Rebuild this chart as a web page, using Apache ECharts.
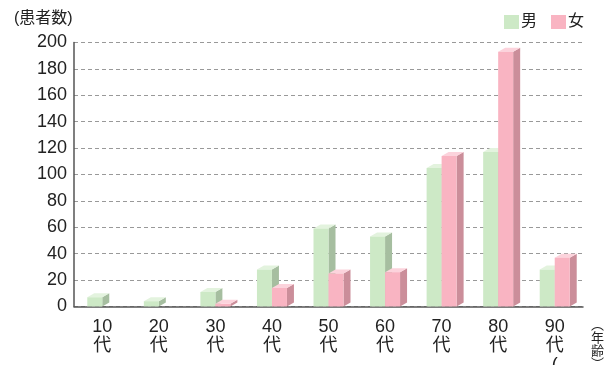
<!DOCTYPE html>
<html><head><meta charset="utf-8">
<script src="https://cdn.jsdelivr.net/npm/echarts@6/dist/echarts.min.js"></script>
<style>html,body{margin:0;padding:0;background:#fff;overflow:hidden}#c{width:608px;height:365px}</style>
</head><body><div id="c"></div>
<script>
const categories = ['10\n代','20\n代','30\n代','40\n代','50\n代','60\n代','70\n代','80\n代','90\n代\n('];
const male = [7, 4, 11, 28, 59, 53, 105, 117, 28];
const female = [0, 0, 2, 14, 25, 26, 114, 193, 37];
const seriesNames = ['男','女'];
const yTicks = {min: 0, max: 200, interval: 20};

const FONT = '"Liberation Sans","Noto Sans CJK JP",sans-serif';
const W = 15, DX = 7, DY = 4;
const palettes = [
  {front:'#cde9c6', top:'#e3f3de', side:'#a6bea0'},
  {front:'#f9b4c2', top:'#fcd3dc', side:'#cb8e9a'}
];
function makeRender(k){
  const p = palettes[k];
  return function(params, api){
    const v = api.value(1);
    if (!v) return;
    const top = api.coord([api.value(0), v]);
    const base = api.coord([api.value(0), 0]);
    const x0 = k === 0 ? top[0] - W : top[0];
    const x1 = x0 + W;
    const yt = top[1], yb = base[1];
    return {type:'group', children:[
      {type:'polygon', shape:{points:[[x1,yt],[x1+DX,yt-DY],[x1+DX,yb-DY],[x1,yb]]}, style:{fill:p.side}},
      {type:'polygon', shape:{points:[[x0,yt],[x0+DX,yt-DY],[x1+DX,yt-DY],[x1,yt]]}, style:{fill:p.top}},
      {type:'rect', shape:{x:x0, y:yt, width:W, height:yb-yt}, style:{fill:p.front}}
    ]};
  };
}
const el = document.getElementById('c');
const chart = echarts.init(el, null, {renderer:'canvas', width:608, height:365});
chart.setOption({
  animation:false,
  textStyle:{fontFamily:FONT},
  grid:{left:74, width:509, top:42.5, height:264, containLabel:false, outerBoundsMode:'none'},
  legend:{data:seriesNames, left:499, top:9, icon:'rect', itemWidth:15, itemHeight:14, itemGap:14,
    textStyle:{fontSize:16, color:'#222', fontFamily:FONT, padding:[0,0,0,-3]}},
  xAxis:{type:'category', data:categories, boundaryGap:true,
    axisLine:{lineStyle:{color:'#555', width:1.5}},
    axisTick:{inside:true, length:5, lineStyle:{color:'#555', width:1.5}},
    axisLabel:{fontSize:18, color:'#222', lineHeight:19, margin:11, fontFamily:FONT, interval:0}},
  yAxis:{type:'value', min:yTicks.min, max:yTicks.max, interval:yTicks.interval,
    axisLine:{show:true, lineStyle:{color:'#555', width:1.5}},
    axisTick:{show:false},
    axisLabel:{fontSize:18, color:'#222', margin:7, fontFamily:FONT},
    splitLine:{lineStyle:{color:'#999', type:[4,3], width:1}}},
  graphic:[
    {type:'text', left:14, top:11, style:{text:'(患者数)', fill:'#222', font:'16px '+FONT}},
    {type:'text', left:591, top:318, style:{text:'︵\n年\n齢\n︶', lineHeight:13, fill:'#222', font:'13px "Noto Sans CJK JP"'}}
  ],
  series:[
    {name:seriesNames[0], type:'custom', renderItem:makeRender(0), itemStyle:{color:palettes[0].front},
      encode:{x:0,y:1}, data:male.map((v,i)=>[i,v])},
    {name:seriesNames[1], type:'custom', renderItem:makeRender(1), itemStyle:{color:palettes[1].front},
      encode:{x:0,y:1}, data:female.map((v,i)=>[i,v])}
  ]
});
</script></body></html>
